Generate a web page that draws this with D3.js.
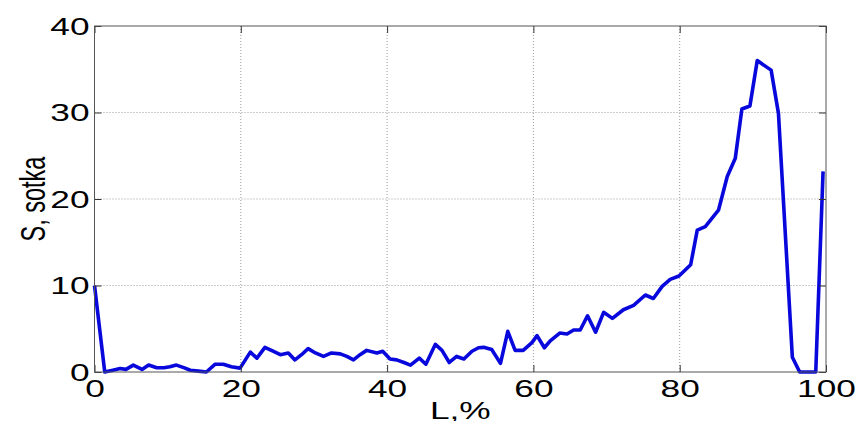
<!DOCTYPE html>
<html>
<head>
<meta charset="utf-8">
<script src="https://cdn.jsdelivr.net/npm/d3@7"></script>
<style>
	body { margin: 0; background: #fff; }
	svg { display: block; }
</style>
</head>
<body>
<svg id="chart" width="858" height="421"></svg>
<script>
// L, % (x) and S, sotka (y)
const L = [0, 1.4, 2.5, 3.5, 4.3, 5.3, 6.5, 7.4, 8.5, 9.5, 10.3, 11.2, 12.2, 13.1, 14.2, 15.3, 16.5, 17.6, 18.7, 19.9,
	21.3, 22.2, 23.3, 24.4, 25.4, 26.5, 27.4, 28.3, 29.2, 30.2, 31.3, 32.4, 33.6, 34.5, 35.4, 36.3, 37.2, 38.6, 39.4,
	40.4, 41.3, 42.3, 43.2, 44.4, 45.3, 46.6, 47.5, 48.5, 49.5, 50.5, 51.6, 52.5, 53.2, 54.3, 55.5, 56.5, 57.5, 58.6, 59.8,
	60.5, 61.5, 62.3, 63.6, 64.6, 65.5, 66.4, 67.4, 68.5, 69.6, 70.8, 72.3, 73.7, 75.3, 76.4, 77.6, 78.7, 79.9,
	81.5, 82.4, 83.5, 85.3, 86.5, 87.6, 88.5, 89.6, 90.6, 92.5, 93.5, 95.4, 96.4, 98.6, 99.6];
const S = [10, 0, 0.2, 0.4, 0.3, 0.8, 0.3, 0.8, 0.5, 0.5, 0.6, 0.8, 0.5, 0.2, 0.1, 0, 0.9, 0.9, 0.6, 0.45,
	2.3, 1.6, 2.85, 2.4, 2.0, 2.2, 1.4, 2.0, 2.7, 2.2, 1.8, 2.2, 2.1, 1.8, 1.4, 2.0, 2.5, 2.2, 2.4,
	1.5, 1.4, 1.1, 0.8, 1.6, 0.9, 3.2, 2.5, 1.1, 1.8, 1.5, 2.4, 2.8, 2.85, 2.6, 1.0, 4.7, 2.5, 2.5, 3.4,
	4.2, 2.8, 3.6, 4.5, 4.4, 4.85, 4.85, 6.5, 4.6, 6.9, 6.2, 7.2, 7.7, 8.9, 8.5, 9.9, 10.7, 11.1,
	12.4, 16.4, 16.8, 18.7, 22.6, 24.7, 30.4, 30.75, 36.0, 34.9, 29.9, 1.7, 0, 0, 23.2];

const xTicks = [0, 20, 40, 60, 80, 100];
const yTicks = [0, 10, 20, 30, 40];
const xTitle = 'L,%';
const yTitle = 'S, sotka';

// the reference figure is stretched sideways, so text is too
const stretch = 1.5;

let svg = d3.select('#chart');

let x = d3.scaleLinear()
	.domain([0, 100])
	.range([94.5, 826])
;

let y = d3.scaleLinear()
	.domain([0, 40])
	.range([372, 26])
;

// dotted grid
svg.append('g')
	.selectAll('line')
	.data(xTicks.slice(1, -1))
	.enter()
	.append('line')
	.attr('x1', d => x(d))
	.attr('x2', d => x(d))
	.attr('y1', y(0))
	.attr('y2', y(40))
	.attr('stroke', '#9a9a9a')
	.attr('stroke-width', 1)
	.attr('stroke-dasharray', '1,2')
;

svg.append('g')
	.selectAll('line')
	.data(yTicks.slice(1, -1))
	.enter()
	.append('line')
	.attr('x1', x(0))
	.attr('x2', x(100))
	.attr('y1', d => y(d))
	.attr('y2', d => y(d))
	.attr('stroke', '#9a9a9a')
	.attr('stroke-width', 1)
	.attr('stroke-dasharray', '1,2')
;

// data line
let line = d3.line()
	.x((d, i) => x(L[i]))
	.y(d => y(d))
;

svg.append('path')
	.datum(S)
	.attr('d', line)
	.attr('fill', 'none')
	.attr('stroke', '#0808dc')
	.attr('stroke-width', 3.6)
	.attr('stroke-linejoin', 'round')
;

// axes, ticks pointing inward
let axisB = svg.append('g')
	.attr('transform', `translate(0,${y(0)})`)
	.call(d3.axisBottom(x).tickValues(xTicks).tickSize(-7).tickFormat(d3.format('d')))
;

let axisT = svg.append('g')
	.attr('transform', `translate(0,${y(40)})`)
	.call(d3.axisTop(x).tickValues(xTicks).tickSize(-7).tickFormat(''))
;

let axisL = svg.append('g')
	.attr('transform', `translate(${x(0)},0)`)
	.call(d3.axisLeft(y).tickValues(yTicks).tickSize(-7).tickFormat(d3.format('d')))
;

let axisR = svg.append('g')
	.attr('transform', `translate(${x(100)},0)`)
	.call(d3.axisRight(y).tickValues(yTicks).tickSize(-7).tickFormat(''))
;

[axisB, axisT, axisL, axisR].forEach(g => {
	g.select('.domain').remove();
	g.selectAll('.tick line')
		.attr('stroke', '#333')
	;
});

axisB.selectAll('.tick text')
	.attr('y', 25)
	.attr('dy', 0)
	.attr('transform', `scale(${stretch},1)`)
	.style('font-family', '"Liberation Sans", Arial, sans-serif')
	.style('font-size', '23.5px')
	.attr('fill', '#000')
;

axisL.selectAll('.tick text')
	.attr('x', -5 / stretch)
	.attr('dy', '0.36em')
	.attr('transform', `scale(${stretch},1)`)
	.style('font-family', '"Liberation Sans", Arial, sans-serif')
	.style('font-size', '23.5px')
	.attr('fill', '#000')
;

// box
svg.append('rect')
	.attr('x', x(0))
	.attr('y', y(40))
	.attr('width', x(100) - x(0))
	.attr('height', y(0) - y(40))
	.attr('fill', 'none')
	.attr('stroke', '#555')
	.attr('stroke-width', 1)
;

// titles (the comma of the x title is clipped by the bottom edge, as in the reference)
svg.append('text')
	.attr('transform', `translate(${(x(0) + x(100)) / 2},419) scale(${stretch},1)`)
	.attr('text-anchor', 'middle')
	.style('font-family', '"Liberation Sans", Arial, sans-serif')
	.style('font-size', '23.5px')
	.text(xTitle)
;

svg.append('text')
	.attr('transform', `translate(45,${(y(0) + y(40)) / 2}) scale(${stretch},1) rotate(-90)`)
	.attr('text-anchor', 'middle')
	.style('font-family', '"Liberation Sans", Arial, sans-serif')
	.style('font-size', '23.5px')
	.text(yTitle)
;
</script>
</body>
</html>
